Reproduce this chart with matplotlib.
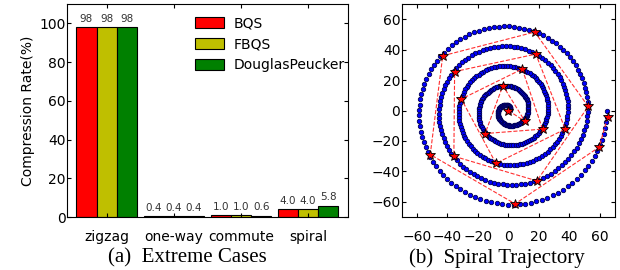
import numpy as np
import matplotlib
matplotlib.use('Agg')
import matplotlib.pyplot as plt

# (a) extreme cases
categories = ['zigzag', 'one-way', 'commute', 'spiral']
bqs = [98, 0.4, 1.0, 4.0]
fbqs = [98, 0.4, 1.0, 4.0]
dp = [98, 0.4, 0.6, 5.8]
series_names = ['BQS', 'FBQS', 'DouglasPeucker']
series_colors = ['#ff0000', '#bfbf00', '#008000']

# (b) spiral trajectory: archimedean spiral, parameters
spiral_turns = 5
spiral_growth = 2.07      # radius units per radian
spiral_points = 520

# points kept by BQS (red stars), in trajectory order
key_x = [0, 10.9, -3.6, -15.3, 22.4, 9.1, -30.9, -8.2, 37.3, 18.0,
         -35.3, -35.8, 18.7, 52.4, 17.3, -43.1, -51.3, 4.4, 59.6, 65.1]
key_y = [0, -7.1, 16.4, -15.1, -12.2, 27.3, 7.6, -34.7, -12.2, 37.1,
         25.6, -30.0, -46.2, 2.7, 51.6, 36.0, -28.9, -61.3, -24.0, -4.4]

plt.rcParams['font.family'] = 'DejaVu Sans'
plt.rcParams['xtick.direction'] = 'in'
plt.rcParams['ytick.direction'] = 'in'

fig = plt.figure(figsize=(6.2, 2.7), dpi=100)

# ---- left panel
ax1 = fig.add_axes([0.108, 0.196, 0.453, 0.789])
w = 0.3
x = np.arange(len(categories))
for k, (vals, name, col) in enumerate(zip([bqs, fbqs, dp], series_names, series_colors)):
    pos = x - w + k * w
    ax1.bar(pos, vals, w, color=col, edgecolor='black', linewidth=0.8, label=name)
    for p, v in zip(pos, vals):
        txt = '%d' % v if v >= 10 else '%.1f' % v
        ax1.annotate(txt, (p, v), xytext=(0, 2.5), textcoords='offset points',
                     ha='center', va='bottom', fontsize=7.5, color='#333333')
ax1.set_xlim(-0.59, 3.59)
ax1.set_ylim(0, 110)
ax1.set_yticks([0, 20, 40, 60, 80, 100])
ax1.set_xticks(x)
ax1.set_xticklabels(categories)
ax1.tick_params(axis='x', top=True, bottom=True, length=3, pad=9, labelsize=10)
ax1.tick_params(axis='y', left=True, right=True, length=3, pad=1, labelsize=10)
ax1.set_ylabel('Compression Rate(%)', fontsize=10, labelpad=3)
ax1.legend(loc='upper left', bbox_to_anchor=(0.43, 0.975), frameon=False,
           fontsize=10, handlelength=2.1, handleheight=0.85, handletextpad=0.7,
           labelspacing=0.5, borderpad=0)

# ---- right panel
ax2 = fig.add_axes([0.648, 0.196, 0.344, 0.789])
theta = np.linspace(0, 2 * np.pi * spiral_turns, spiral_points)
r = spiral_growth * theta
ax2.plot(r * np.cos(theta), r * np.sin(theta), 'o', ms=3.2, mfc='#0000ff',
         mec='#000050', mew=0.6, zorder=2)
ax2.plot(key_x, key_y, '--', color='#ff3030', lw=0.8, zorder=3)
ax2.plot(key_x, key_y, '*', ms=7, mfc='#ff0000', mec='black', mew=0.6, zorder=4)
ax2.set_xlim(-70, 70)
ax2.set_ylim(-70, 70)
ax2.set_xticks(range(-60, 61, 20))
ax2.set_yticks(range(-60, 61, 20))
ax2.tick_params(axis='x', top=True, bottom=True, length=3, pad=9, labelsize=10)
ax2.tick_params(axis='y', left=True, right=True, length=3, pad=1, labelsize=10)

fig.text(0.302, 0.026, '(a)  Extreme Cases', ha='center', va='baseline',
         family='Liberation Serif', fontsize=15)
fig.text(0.801, 0.026, '(b)  Spiral Trajectory', ha='center', va='baseline',
         family='Liberation Serif', fontsize=15)

fig.savefig('out.png', dpi=100)
